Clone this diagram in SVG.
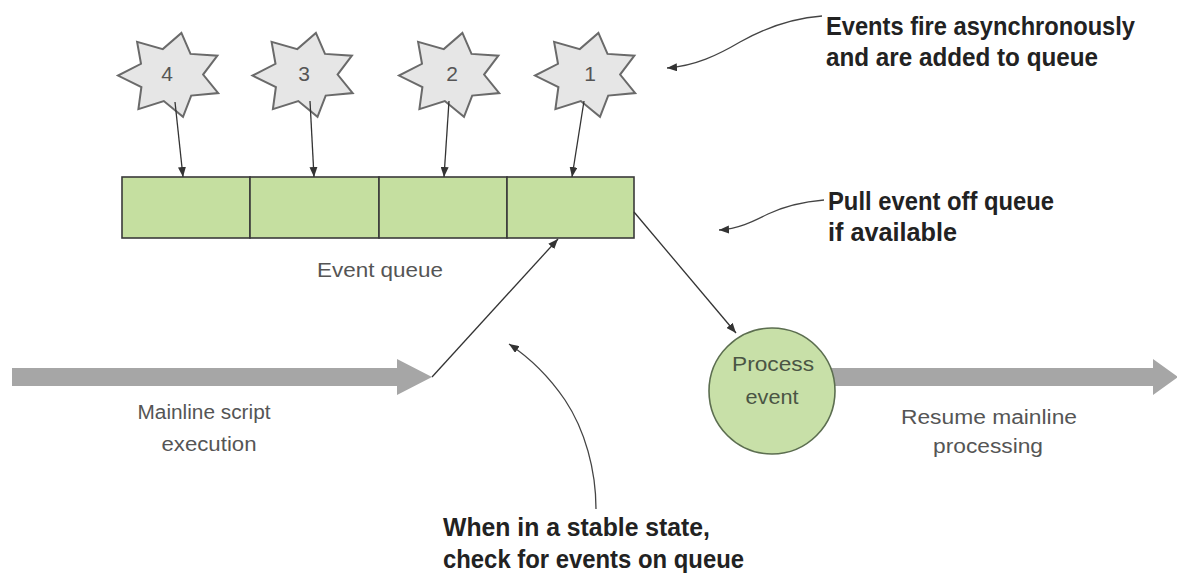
<svg xmlns="http://www.w3.org/2000/svg" width="1177" height="575" viewBox="0 0 1177 575">
<style>
.bg{fill:#ffffff}
.star{fill:#e6e6e6;stroke:#6a6a6a;stroke-width:2;stroke-linejoin:miter}
.num{font-family:"Liberation Sans",Arial,sans-serif;font-size:21px;fill:#555;text-anchor:middle}
.cell{fill:#c5dfa0;stroke:#3a3a3a;stroke-width:1.6}
.lbl{font-family:"Liberation Sans",Arial,sans-serif;font-size:20px;fill:#555}
.note{font-family:"Liberation Sans",Arial,sans-serif;font-size:25px;font-weight:bold;fill:#222}
.band{fill:#a6a6a6}
.conn{fill:none;stroke:#333;stroke-width:1.3}
.curve{fill:none;stroke:#444;stroke-width:1.3}
.circ{fill:#c8e0a8;stroke:#5c6e50;stroke-width:1.6}
.ctext{font-family:"Liberation Sans",Arial,sans-serif;font-size:20px;fill:#4a5544;text-anchor:middle}
</style>
<defs>
<marker id="ah" viewBox="0 0 10 8" refX="10" refY="4" markerWidth="10" markerHeight="8" markerUnits="userSpaceOnUse" orient="auto">
<path d="M0,0 L10,4 L0,8 z" fill="#333"/>
</marker>
<polygon id="starshape" points="10.9,-42.1 20,-21.1 46.9,-19.3 32.6,-0.4 47.7,18.1 20.7,20.6 12.5,41.8 -6.7,26.1 -32.1,34.1 -29.1,12 -52.5,0.6 -29.5,-11.2 -33.4,-33.2 -7.7,-25.9"/>
</defs>
<rect class="bg" x="0" y="0" width="1177" height="575"/>

<g id="mainline">
<polygon class="band" points="12,368 397,368 397,359 432,377 397,395 397,386 12,386"/>
<text class="lbl" x="204" y="419" text-anchor="middle" textLength="133" lengthAdjust="spacingAndGlyphs">Mainline script</text>
<text class="lbl" x="209" y="451" text-anchor="middle" textLength="95" lengthAdjust="spacingAndGlyphs">execution</text>
</g>

<g id="resume">
<polygon class="band" points="830,368 1153,368 1153,359 1178,377 1153,395 1153,386 830,386"/>
<text class="lbl" x="989" y="424" text-anchor="middle" textLength="176" lengthAdjust="spacingAndGlyphs">Resume mainline</text>
<text class="lbl" x="988" y="453" text-anchor="middle" textLength="110" lengthAdjust="spacingAndGlyphs">processing</text>
</g>

<g id="star4">
<use href="#starshape" class="star" x="170.5" y="75"/>
<text class="num" x="167" y="81">4</text>
</g>
<g id="star3">
<use href="#starshape" class="star" x="305" y="75"/>
<text class="num" x="304" y="81">3</text>
</g>
<g id="star2">
<use href="#starshape" class="star" x="451.5" y="75"/>
<text class="num" x="452" y="81">2</text>
</g>
<g id="star1">
<use href="#starshape" class="star" x="587.5" y="75"/>
<text class="num" x="590" y="81">1</text>
</g>

<g id="queue">
<rect class="cell" x="122" y="177" width="128" height="61"/>
<rect class="cell" x="250" y="177" width="129" height="61"/>
<rect class="cell" x="379" y="177" width="128" height="61"/>
<rect class="cell" x="507" y="177" width="127" height="61"/>
<text class="lbl" x="380" y="277" text-anchor="middle" textLength="126" lengthAdjust="spacingAndGlyphs">Event queue</text>
</g>

<g id="process">
<circle class="circ" cx="772" cy="391" r="63"/>
<text class="ctext" x="773" y="371" textLength="82" lengthAdjust="spacingAndGlyphs">Process</text>
<text class="ctext" x="772" y="404" textLength="53" lengthAdjust="spacingAndGlyphs">event</text>
</g>

<g id="note-events">
<text class="note" x="826" y="35" textLength="309" lengthAdjust="spacingAndGlyphs">Events fire asynchronously</text>
<text class="note" x="826" y="66" textLength="272" lengthAdjust="spacingAndGlyphs">and are added to queue</text>
</g>
<g id="note-pull">
<text class="note" x="828" y="210" textLength="226" lengthAdjust="spacingAndGlyphs">Pull event off queue</text>
<text class="note" x="828" y="241" textLength="129" lengthAdjust="spacingAndGlyphs">if available</text>
</g>
<g id="note-stable">
<text class="note" x="443" y="536" textLength="267" lengthAdjust="spacingAndGlyphs">When in a stable state,</text>
<text class="note" x="443" y="568" textLength="301" lengthAdjust="spacingAndGlyphs">check for events on queue</text>
</g>

<g id="connectors">
<line class="conn" x1="175" y1="102" x2="183" y2="177" marker-end="url(#ah)"/>
<line class="conn" x1="310" y1="101" x2="314" y2="177" marker-end="url(#ah)"/>
<line class="conn" x1="449" y1="101" x2="444" y2="177" marker-end="url(#ah)"/>
<line class="conn" x1="584" y1="101" x2="572" y2="177" marker-end="url(#ah)"/>
<line class="conn" x1="432" y1="377" x2="558" y2="239" marker-end="url(#ah)"/>
<line class="conn" x1="634" y1="212" x2="736" y2="333" marker-end="url(#ah)"/>
<path class="curve" d="M822,16 C795,18 765,28 740,42 C718,55 695,66 667,68" marker-end="url(#ah)"/>
<path class="curve" d="M824,200 C800,202 785,206 768,214 C752,222 738,229 719,230" marker-end="url(#ah)"/>
<path class="curve" d="M596,509 C596,470 585,430 565,400 C550,378 530,358 509,344" marker-end="url(#ah)"/>
</g>
</svg>
